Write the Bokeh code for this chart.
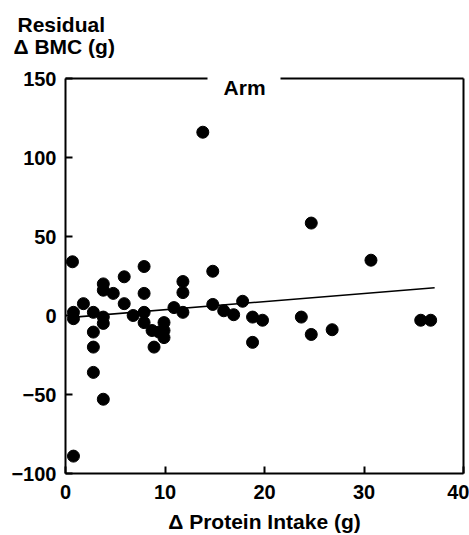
from bokeh.plotting import figure
from bokeh.models import Label, FixedTicker, Range1d, Title, LinearAxis
from bokeh.embed import file_html
from bokeh.resources import INLINE

# Data
protein_x = [0.7, 0.8, 0.8, 0.8, 1.8, 2.8, 2.8, 2.8, 2.8, 3.8,
             3.8, 3.8, 3.8, 3.8, 4.8, 5.9, 5.9, 6.8, 7.9, 7.9,
             7.9, 7.9, 8.7, 8.9, 9.4, 9.9, 9.9, 9.9, 10.9, 11.8,
             11.8, 11.8, 13.8, 14.8, 14.8, 15.9, 16.9, 17.8, 18.8, 18.8,
             19.8, 23.7, 24.7, 24.7, 26.8, 30.7, 35.7, 36.7]
bmc_y = [34, 2, -2, -89, 7.5, 2, -10.5, -20, -36, -53,
         20, 16, -1, -5, 14, 24.5, 7.5, 0, 31, 14,
         2, -4.5, -9.5, -20, -10.5, -4.5, -9.5, -14, 5, 21.5,
         14.5, 2, 116, 28, 7, 3, 0.5, 9, -1, -17,
         -3, -1, 58.5, -12, -9, 35, -3, -3]

fit_x = [0.9, 37.1]
fit_y = [-1.0, 17.6]

x_ticks = [0, 10, 20, 30, 40]
y_ticks = [-100, -50, 0, 50, 100, 150]

panel_title = "Arm"
y_label_lines = ["Δ BMC (g)", "Residual"]
x_label = "Δ Protein Intake (g)"

FONT = "Liberation Sans"

p = figure(width=469, height=535, output_backend="svg", toolbar_location=None,
           title=None,
           x_range=Range1d(0, 40), y_range=Range1d(-100, 150),
           min_border_left=65, min_border_right=6,
           min_border_top=78, min_border_bottom=60)
p.xgrid.visible = False
p.ygrid.visible = False
p.background_fill_color = "white"
p.border_fill_color = "white"
p.outline_line_color = None

p.xaxis.ticker = FixedTicker(ticks=x_ticks)
p.yaxis.ticker = FixedTicker(ticks=y_ticks)
for ax in (p.xaxis[0], p.yaxis[0]):
    ax.major_tick_in = 7
    ax.major_tick_out = 0
    ax.minor_tick_in = 0
    ax.minor_tick_out = 0
    ax.major_tick_line_width = 2
    ax.major_tick_line_color = "black"
    ax.axis_line_width = 2
    ax.axis_line_color = "black"
    ax.major_label_text_font = FONT
    ax.major_label_text_font_style = "bold"
    ax.major_label_text_font_size = "20px"
    ax.major_label_text_color = "black"
p.yaxis.major_label_standoff = 9
p.xaxis.major_label_standoff = 11

p.xaxis.axis_label = x_label
p.xaxis.axis_label_text_font = FONT
p.xaxis.axis_label_text_font_style = "bold"
p.xaxis.axis_label_text_font_size = "21px"
p.xaxis.axis_label_text_color = "black"
p.xaxis.axis_label_standoff = 8


def frame_axis(bounds=None):
    ax = LinearAxis(ticker=FixedTicker(ticks=[]), major_label_standoff=0,
                    major_tick_in=0, major_tick_out=0,
                    minor_tick_in=0, minor_tick_out=0,
                    axis_line_width=2, axis_line_color="black",
                    major_label_text_font_size="0px")
    if bounds is not None:
        ax.bounds = bounds
    return ax


# frame: right side and the top side broken around the panel title
p.add_layout(frame_axis(), "right")
p.add_layout(frame_axis((0, 14.3)), "above")
p.add_layout(frame_axis((21.6, 40)), "above")

# spacer between the frame and the y-axis label lines
p.add_layout(Title(text=" ", text_font_size="1px", standoff=18), "above")
for txt, off, so in ((y_label_lines[0], -52, 0), (y_label_lines[1], -48, -6)):
    p.add_layout(Title(text=txt, align="left", offset=off, standoff=so,
                       text_font=FONT, text_font_style="bold",
                       text_font_size="21px", text_color="black"), "above")

p.line(fit_x, fit_y, line_color="black", line_width=1.6)
p.scatter(protein_x, bmc_y, marker="circle", size=12,
          fill_color="black", line_color="black")

p.add_layout(Label(x=18, y=150, y_offset=-9, text=panel_title, text_font=FONT,
                   text_font_style="bold", text_font_size="21px",
                   text_color="black", text_baseline="alphabetic",
                   text_align="center"))

open("out.html", "w").write(file_html(p, INLINE))
